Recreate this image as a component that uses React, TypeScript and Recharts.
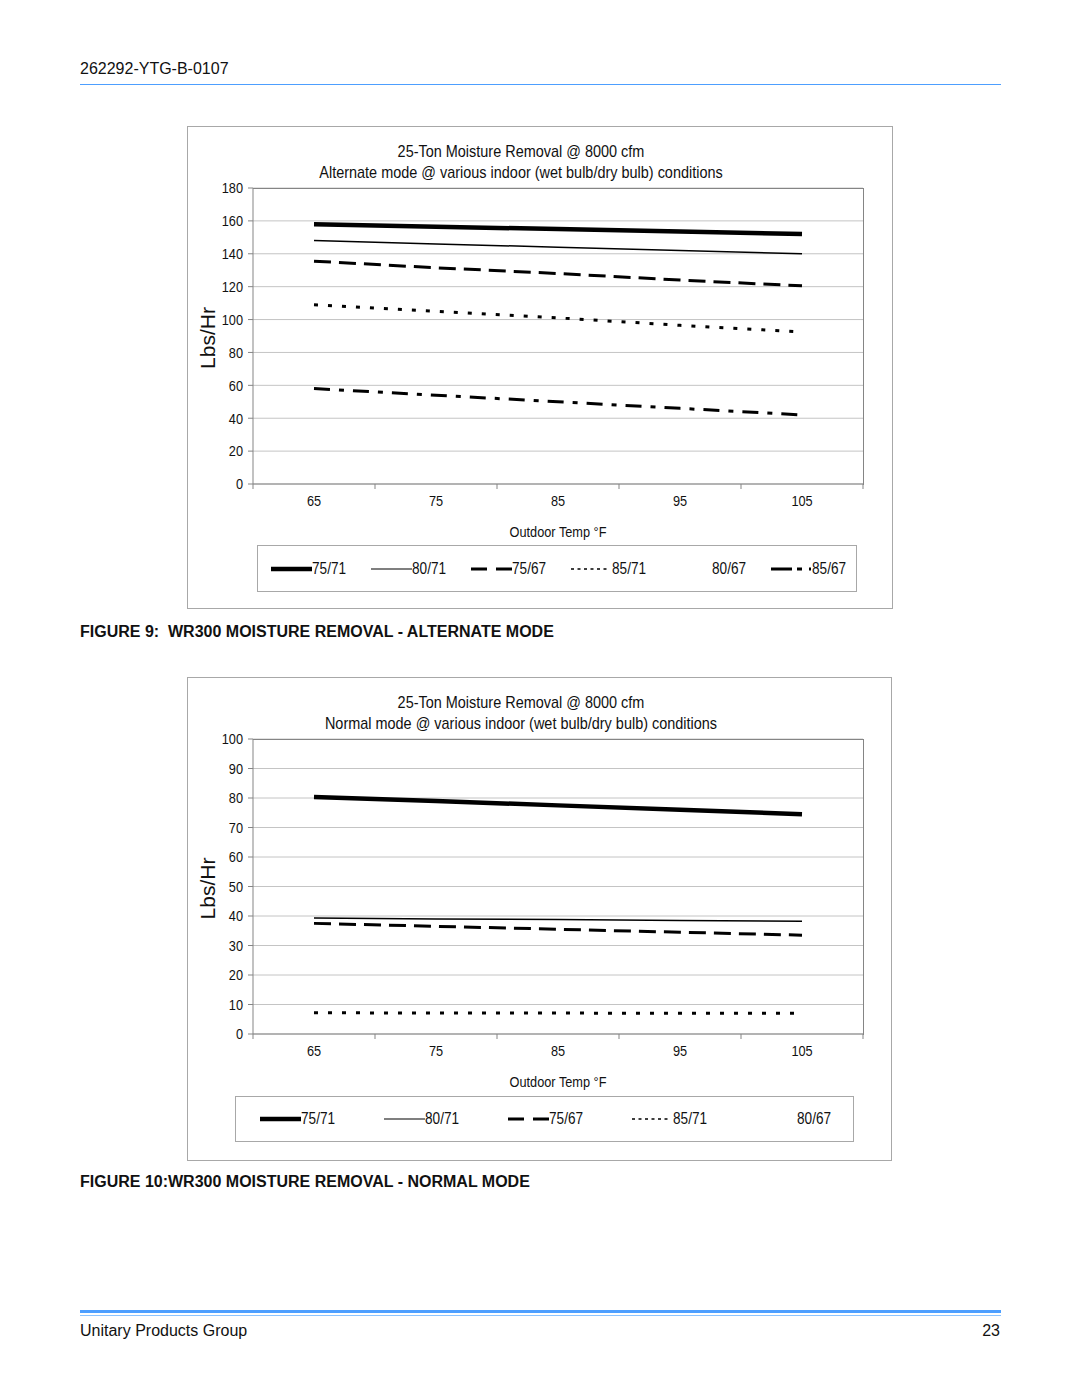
import React from "react";
import { LineChart, Line, XAxis, YAxis, CartesianGrid } from "recharts";

const SANS = "'Liberation Sans', Arial, sans-serif";
const NARROW_K = 0.85; // no narrow face installed, so squeeze the text
const AXIS_STROKE = "#858585";
const GRID_STROKE = "#c4c4c4";
const BOX_STROKE = "#a8a8a8";
const RULE_BLUE = "#4d9fff";

// outdoor temp categories
const TEMPS = ["65", "75", "85", "95", "105"];

// alternate mode (lbs/hr)
const ALT_75_71 = [158, 156.5, 155, 153.5, 152];
const ALT_80_71 = [148, 146, 144, 142, 140];
const ALT_75_67 = [135.5, 131.5, 128, 124, 120.5];
const ALT_85_71 = [109, 105, 101, 96.5, 92.5];
const ALT_85_67 = [58, 54, 50, 46, 42];
const ALT_TICKS = [0, 20, 40, 60, 80, 100, 120, 140, 160, 180];

// normal mode (lbs/hr)
const NRM_75_71 = [80.3, 79, 77.5, 76, 74.5];
const NRM_80_71 = [39.3, 39, 38.8, 38.5, 38.2];
const NRM_75_67 = [37.5, 36.5, 35.5, 34.5, 33.5];
const NRM_85_71 = [7.2, 7.1, 7.1, 7, 7];
const NRM_TICKS = [0, 10, 20, 30, 40, 50, 60, 70, 80, 90, 100];

const STYLES: Record<
  string,
  { width: number; dash?: string; legendW?: number; legendDash?: string; legendLen?: number; hidden?: boolean }
> = {
  "75/71": { width: 4.5 },
  "80/71": { width: 1.5, legendW: 1.2 },
  "75/67": { width: 3, dash: "17 8", legendDash: "16 9" },
  "85/71": { width: 3, dash: "4 10", legendW: 1.5, legendDash: "3 3.5", legendLen: 37 },
  "80/67": { width: 0, hidden: true },
  "85/67": { width: 3, dash: "16 9 5 9", legendDash: "21 5 5 7 2 5" },
};

type Series = { name: string; values: number[] };

const ALT_SERIES: Series[] = [
  { name: "75/71", values: ALT_75_71 },
  { name: "80/71", values: ALT_80_71 },
  { name: "75/67", values: ALT_75_67 },
  { name: "85/71", values: ALT_85_71 },
  { name: "80/67", values: [] },
  { name: "85/67", values: ALT_85_67 },
];

const NRM_SERIES: Series[] = [
  { name: "75/71", values: NRM_75_71 },
  { name: "80/71", values: NRM_80_71 },
  { name: "75/67", values: NRM_75_67 },
  { name: "85/71", values: NRM_85_71 },
  { name: "80/67", values: [] },
];

const PLOT_W = 610;
const Y_AXIS_W = 66;
const TOP = 62;

function buildRows(series: Series[]) {
  return TEMPS.map((t, i) => {
    const row: Record<string, string | number | null> = { temp: t };
    series.forEach((s) => {
      row[s.name] = s.values.length ? s.values[i] : null;
    });
    return row;
  });
}

function CatTick(props: any) {
  const { x, y, payload, index } = props;
  const half = PLOT_W / TEMPS.length / 2;
  return (
    <g>
      <line x1={x - half} x2={x - half} y1={y} y2={y + 5} stroke={AXIS_STROKE} />
      {index === TEMPS.length - 1 && (
        <line x1={x + half} x2={x + half} y1={y} y2={y + 5} stroke={AXIS_STROKE} />
      )}
      <text
        transform={`translate(${x},${y + 22}) scale(${NARROW_K},1)`}
        textAnchor="middle"
        fontSize={15}
        fontFamily={SANS}
        fill="#111"
      >
        {payload.value}
      </text>
    </g>
  );
}

function ValTick(props: any) {
  const { x, y, payload } = props;
  return (
    <text
      transform={`translate(${x},${y}) scale(${NARROW_K},1)`}
      textAnchor="end"
      dominantBaseline="central"
      fontSize={15}
      fontFamily={SANS}
      fill="#111"
    >
      {payload.value}
    </text>
  );
}

interface PanelProps {
  left: number;
  top: number;
  width: number;
  height: number;
  plotH: number;
  subtitle: string;
  series: Series[];
  ticks: number[];
  legend: { left: number; top: number; width: number; height: number; pad: number; item: number };
}

function Panel({ left, top, width, height, plotH, subtitle, series, ticks, legend }: PanelProps) {
  const rows = buildRows(series);
  const yMax = ticks[ticks.length - 1];
  return (
    <div
      style={{
        position: "absolute",
        left,
        top,
        width,
        height,
        boxSizing: "border-box",
        border: `1px solid ${BOX_STROKE}`,
      }}
    >
      <div
        style={{
          position: "absolute",
          left: 0,
          top: 14,
          width: 666,
          textAlign: "center",
          fontFamily: SANS,
          fontSize: 17,
          lineHeight: "21px",
          color: "#111",
          transform: `scaleX(${NARROW_K})`,
          transformOrigin: "center",
        }}
      >
        25-Ton Moisture Removal @ 8000 cfm
        <br />
        {subtitle}
      </div>
      <div style={{ position: "absolute", left: -1, top: -1 }}>
        <LineChart
          width={width}
          height={TOP + plotH + 70}
          data={rows}
          margin={{ top: TOP, right: width - Y_AXIS_W - PLOT_W, bottom: 0, left: 0 }}
        >
          <CartesianGrid vertical={false} stroke={GRID_STROKE} />
          <XAxis
            dataKey="temp"
            type="category"
            height={70}
            padding={{ left: PLOT_W / TEMPS.length / 2, right: PLOT_W / TEMPS.length / 2 }}
            stroke={AXIS_STROKE}
            tickLine={false}
            tickSize={0}
            tickMargin={0}
            interval={0}
            tick={<CatTick />}
            label={{
              content: (p: any) => {
                const vb = p.viewBox;
                return (
                  <text
                    transform={`translate(${vb.x + vb.width / 2},${vb.y + 53}) scale(${NARROW_K},1)`}
                    textAnchor="middle"
                    fontSize={15}
                    fontFamily={SANS}
                    fill="#111"
                  >
                    Outdoor Temp °F
                  </text>
                );
              },
            }}
          />
          <YAxis
            width={Y_AXIS_W}
            domain={[0, yMax]}
            ticks={ticks}
            interval={0}
            stroke={AXIS_STROKE}
            tickSize={5}
            tickMargin={5}
            tick={<ValTick />}
            label={{
              content: (p: any) => {
                const vb = p.viewBox;
                const cx = vb.x + 20;
                const cy = vb.y + vb.height / 2 + 2;
                return (
                  <text
                    x={cx}
                    y={cy}
                    transform={`rotate(-90 ${cx} ${cy})`}
                    textAnchor="middle"
                    dominantBaseline="central"
                    fontSize={21}
                    fontFamily={SANS}
                    fill="#111"
                  >
                    Lbs/Hr
                  </text>
                );
              },
            }}
          />
          {series
            .filter((s) => !STYLES[s.name].hidden)
            .map((s) => (
              <Line
                key={s.name}
                dataKey={s.name}
                stroke="#000"
                strokeWidth={STYLES[s.name].width}
                strokeDasharray={STYLES[s.name].dash}
                strokeLinecap="butt"
                dot={false}
                activeDot={false}
                isAnimationActive={false}
              />
            ))}
        </LineChart>
        {/* top and right edges of the plot frame */}
        <div
          style={{
            position: "absolute",
            left: Y_AXIS_W,
            top: TOP - 0.5,
            width: PLOT_W - 0.5,
            height: plotH,
            borderTop: `1px solid ${AXIS_STROKE}`,
            borderRight: `1px solid ${AXIS_STROKE}`,
            pointerEvents: "none",
          }}
        />
      </div>
      <div
        style={{
          position: "absolute",
          left: legend.left,
          top: legend.top,
          width: legend.width,
          height: legend.height,
          boxSizing: "border-box",
          border: `1px solid ${BOX_STROKE}`,
          paddingLeft: legend.pad,
          display: "flex",
          alignItems: "center",
          overflow: "visible",
        }}
      >
        {series.map((s) => {
          const st = STYLES[s.name];
          return (
            <div
              key={s.name}
              style={{ width: legend.item, flex: "none", display: "flex", alignItems: "center" }}
            >
              <svg width={41} height={10} style={{ display: "block", flex: "none" }}>
                {!st.hidden && (
                  <line
                    x1={0}
                    x2={st.legendLen ?? 41}
                    y1={5}
                    y2={5}
                    stroke="#000"
                    strokeWidth={st.legendW ?? st.width}
                    strokeDasharray={st.legendDash}
                  />
                )}
              </svg>
              <span
                style={{
                  display: "inline-block",
                  fontFamily: SANS,
                  fontSize: 16,
                  color: "#111",
                  whiteSpace: "nowrap",
                  transform: `scaleX(${NARROW_K})`,
                  transformOrigin: "left",
                }}
              >
                {s.name}
              </span>
            </div>
          );
        })}
      </div>
    </div>
  );
}

export default function App() {
  return (
    <div
      style={{
        position: "absolute",
        left: 0,
        top: 0,
        width: 1080,
        height: 1397,
        background: "#fff",
        fontFamily: SANS,
      }}
    >
      <div style={{ position: "absolute", left: 80, top: 60, fontSize: 16, color: "#111" }}>262292-YTG-B-0107</div>
      <div style={{ position: "absolute", left: 80, top: 84, width: 921, height: 1, background: RULE_BLUE }} />

      <Panel
        left={187}
        top={126}
        width={706}
        height={483}
        plotH={296}
        subtitle="Alternate mode @ various indoor (wet bulb/dry bulb) conditions"
        series={ALT_SERIES}
        ticks={ALT_TICKS}
        legend={{ left: 69, top: 418, width: 600, height: 47, pad: 13, item: 100 }}
      />
      <div style={{ position: "absolute", left: 80, top: 623, fontWeight: "bold", fontSize: 16, color: "#111" }}>
        FIGURE 9:&nbsp;&nbsp;WR300 MOISTURE REMOVAL - ALTERNATE MODE
      </div>

      <Panel
        left={187}
        top={677}
        width={705}
        height={484}
        plotH={295}
        subtitle="Normal mode @ various indoor (wet bulb/dry bulb) conditions"
        series={NRM_SERIES}
        ticks={NRM_TICKS}
        legend={{ left: 47, top: 418, width: 619, height: 46, pad: 24, item: 124 }}
      />
      <div style={{ position: "absolute", left: 80, top: 1173, fontWeight: "bold", fontSize: 16, color: "#111" }}>
        FIGURE 10:WR300 MOISTURE REMOVAL - NORMAL MODE
      </div>

      <div style={{ position: "absolute", left: 80, top: 1310, width: 921, height: 3, background: RULE_BLUE }} />
      <div style={{ position: "absolute", left: 80, top: 1315, width: 921, height: 1, background: "#8cc4ff" }} />
      <div style={{ position: "absolute", left: 80, top: 1322, fontSize: 16, color: "#111" }}>Unitary Products Group</div>
      <div style={{ position: "absolute", right: 80, top: 1322, fontSize: 16, color: "#111" }}>23</div>
    </div>
  );
}
